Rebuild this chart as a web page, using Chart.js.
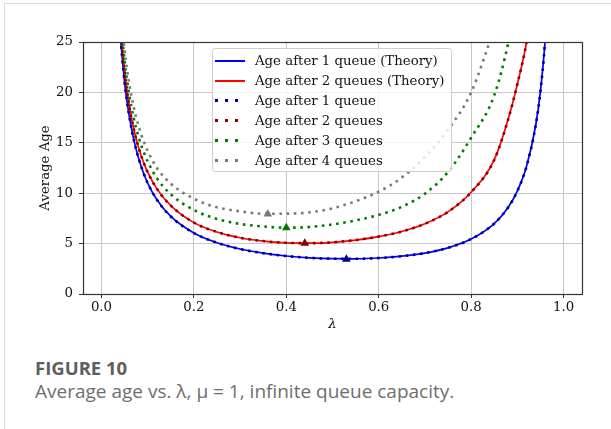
<!DOCTYPE html>
<html>
<head>
<meta charset="utf-8">
<script src="https://cdn.jsdelivr.net/npm/chart.js@4"></script>
<style>
  html, body { margin: 0; padding: 0; background: #fff; overflow: hidden; }
  body { width: 611px; height: 429px; position: relative; }
  #frame { position: absolute; left: 4px; top: 3px; width: 700px; height: 500px; border: 1px solid #d9d9d9; }
  #chart { position: absolute; left: 0; top: 0; }
  #legend { position: absolute; left: 212px; top: 48px; width: 238px; height: 122px;
            border: 1px solid #cfcfcf; border-radius: 3px; background: rgba(255,255,255,0.8);
            font-family: "DejaVu Serif", serif; font-size: 13.3px; color: #111; }
  .row { position: absolute; left: 0; height: 20px; width: 238px; }
  .sample { position: absolute; left: 2px; width: 30px; }
  .txt { position: absolute; left: 42px; top: 0; line-height: 20px; white-space: nowrap; }
  .fig { position: absolute; left: 35px; font-family: "Open Sans", sans-serif; white-space: nowrap; }
</style>
</head>
<body>
<div id="frame"></div>
<canvas id="chart" width="611" height="340"></canvas>
<div id="legend"></div>
<div class="fig" style="top:358.6px; font-size:18.5px; line-height:18.5px; font-weight:700; color:#5e5e5e;">FIGURE 10</div>
<div class="fig" style="top:382.4px; font-size:19px; line-height:19px; color:#6e6e6e;">Average age vs. λ, μ = 1, infinite queue capacity.</div>
<script>
// arrival rate λ (μ = 1)
const lambdas = [0.04, 0.05, 0.06, 0.07, 0.08, 0.09, 0.10, 0.12, 0.15, 0.20, 0.25, 0.30, 0.35, 0.40, 0.45,
                 0.50, 0.55, 0.60, 0.65, 0.70, 0.75, 0.80, 0.85, 0.88, 0.90, 0.92, 0.94, 0.95, 0.96, 0.97];

const ageOneQueueTheory = [26.0, 21.0, 17.67, 15.29, 13.51, 12.12, 11.01, 9.35, 7.69, 6.05, 5.08, 4.46, 4.05, 3.77, 3.59,
                           3.50, 3.49, 3.57, 3.75, 4.06, 4.58, 5.45, 6.99, 8.59, 10.21, 12.67, 16.79, 20.10, 25.08, 33.4];
const ageTwoQueuesTheory = [27.05, 22.05, 18.72, 16.35, 14.57, 13.19, 12.08, 10.43, 8.77, 7.08, 6.15, 5.58, 5.25, 5.08, 5.04,
                            5.13, 5.35, 5.70, 6.20, 6.97, 8.15, 10.10, 13.3, 17.3, 20.8, 25.0, 31.5, null, null, null];

// simulated points sit right on the theory curves
const ageOneQueueSim = ageOneQueueTheory;
const ageTwoQueuesSim = ageTwoQueuesTheory;
const ageThreeQueuesSim = [28.1, 23.1, 19.8, 17.4, 15.62, 14.25, 13.15, 11.48, 9.9, 8.33, 7.45, 6.95, 6.70, 6.58, 6.65,
                           6.90, 7.30, 7.85, 8.65, 9.95, 12.1, 15.5, 19.7, 24.8, 29.5, null, null, null, null, null];
const ageFourQueuesSim = [29.15, 24.15, 20.85, 18.5, 16.7, 15.3, 14.2, 12.5, 10.95, 9.45, 8.6, 8.2, 7.96, 7.97, 8.1,
                          8.5, 9.2, 10.15, 11.55, 13.6, 16.3, 20.0, 26.3, null, null, null, null, null, null, null];

// minimum of each simulated curve (triangles)
const minLambdas = [0.53, 0.44, 0.40, 0.36];
const minAges = [3.44, 5.03, 6.58, 7.94];

const xTicks = [0.0, 0.2, 0.4, 0.6, 0.8, 1.0];
const yTicks = [0, 5, 10, 15, 20, 25];

const labels = ['Age after 1 queue (Theory)', 'Age after 2 queues (Theory)', 'Age after 1 queue',
                'Age after 2 queues', 'Age after 3 queues', 'Age after 4 queues'];
const colors = ['#0000ff', '#ff0000', '#00008b', '#8b0000', '#007a00', '#7a7a7a'];
const dotted = [false, false, true, true, true, true];

function toPoints(ys) {
  const pts = [];
  ys.forEach((y, i) => { if (y !== null) pts.push({x: lambdas[i], y: y}); });
  return pts;
}

function curve(i, ys, order) {
  const ds = {
    label: labels[i],
    data: toPoints(ys),
    borderColor: colors[i],
    backgroundColor: colors[i],
    borderWidth: dotted[i] ? 2.6 : 1.7,
    pointRadius: 0,
    cubicInterpolationMode: 'monotone',
    order: order
  };
  if (dotted[i]) ds.borderDash = [2.6, 4.6];
  return ds;
}

const serif = 'DejaVu Serif';
const fontSize = 13.3;

const frame = {
  id: 'frame',
  afterDraw(chart) {
    const a = chart.chartArea, ctx = chart.ctx;
    ctx.save();
    ctx.strokeStyle = '#333';
    ctx.lineWidth = 1.2;
    ctx.strokeRect(Math.round(a.left) + 0.5, Math.round(a.top) + 0.5,
                   Math.round(a.right - a.left), Math.round(a.bottom - a.top));
    ctx.restore();
  }
};

new Chart(document.getElementById('chart'), {
  type: 'line',
  data: {
    datasets: [
      curve(0, ageOneQueueTheory, 10),
      curve(1, ageTwoQueuesTheory, 9),
      curve(2, ageOneQueueSim, 4),
      curve(3, ageTwoQueuesSim, 3),
      curve(4, ageThreeQueuesSim, 2),
      curve(5, ageFourQueuesSim, 1),
      {
        label: 'minimum',
        data: minLambdas.map((x, i) => ({x: x, y: minAges[i]})),
        showLine: false,
        pointStyle: 'triangle',
        pointRadius: 5,
        pointBorderWidth: 0,
        pointBackgroundColor: colors.slice(2),
        pointBorderColor: colors.slice(2),
        order: 0
      }
    ]
  },
  options: {
    responsive: false,
    animation: false,
    layout: { padding: { top: 42, right: 29, left: 0, bottom: 0 } },
    plugins: { legend: { display: false }, tooltip: { enabled: false } },
    scales: {
      x: {
        type: 'linear',
        min: -0.04,
        max: 1.04,
        afterBuildTicks: s => { s.ticks = xTicks.map(v => ({value: v})); },
        afterFit: s => { s.height = 46; },
        ticks: { callback: v => v.toFixed(1), font: {family: serif, size: fontSize}, color: '#111', padding: 2, maxRotation: 0, autoSkip: false },
        grid: { color: '#c8c8c8', tickColor: '#333', tickLength: 4, lineWidth: 1 },
        border: { color: '#333', width: 1 },
        title: { display: true, text: 'λ', color: '#111', font: {family: serif, size: fontSize, style: 'italic'}, padding: {top: 0, bottom: 7} }
      },
      y: {
        min: 0,
        max: 25,
        afterBuildTicks: s => { s.ticks = yTicks.map(v => ({value: v})); },
        afterFit: s => { s.width = 83; },
        ticks: { font: {family: serif, size: fontSize}, color: '#111', padding: 6 },
        grid: { color: '#c8c8c8', tickColor: '#333', tickLength: 4, lineWidth: 1 },
        border: { color: '#333', width: 1 },
        title: { display: true, text: 'Average Age', color: '#111', font: {family: serif, size: fontSize}, padding: {top: 38, bottom: 0} }
      }
    }
  },
  plugins: [frame]
});

// legend inside the plot, upper centre
const legend = document.getElementById('legend');
labels.forEach((text, i) => {
  const row = document.createElement('div');
  row.className = 'row';
  row.style.top = (1.7 + 20 * i) + 'px';
  const sample = document.createElement('div');
  sample.className = 'sample';
  if (dotted[i]) {
    sample.style.top = '8.5px';
    sample.style.height = '3px';
    sample.style.background = 'repeating-linear-gradient(90deg, ' + colors[i] + ' 0 3px, transparent 3px 10px)';
  } else {
    sample.style.top = '9px';
    sample.style.height = '2px';
    sample.style.background = colors[i];
  }
  const label = document.createElement('div');
  label.className = 'txt';
  label.textContent = text;
  row.appendChild(sample);
  row.appendChild(label);
  legend.appendChild(row);
});
</script>
</body>
</html>
